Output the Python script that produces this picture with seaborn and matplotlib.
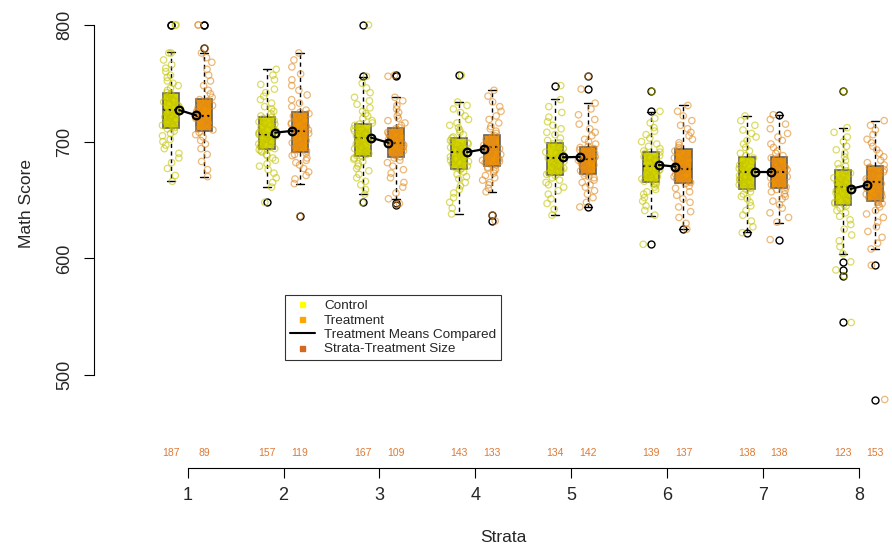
import numpy as np
import pandas as pd
import matplotlib
matplotlib.use("Agg")
import matplotlib.pyplot as plt
import matplotlib.transforms as mtransforms
from matplotlib.lines import Line2D
import seaborn as sns

# --- data ---
strata = [1, 2, 3, 4, 5, 6, 7, 8]

# lower whisker, Q1, median, Q3, upper whisker
ctrl_box = [
    [666, 711.5, 727, 741.5, 776.6],
    [661, 693.5, 706, 721.4, 762],
    [655, 688, 703.4, 715.2, 755.7],
    [638, 676.3, 691, 703.4, 734.3],
    [637, 671.5, 685.8, 698.6, 736.6],
    [636.6, 665.7, 679.2, 691.4, 725.7],
    [622.3, 659.5, 673.8, 686.6, 722.3],
    [603.8, 645.5, 661.2, 675.5, 712],
]
trt_box = [
    [670, 709.4, 722, 736.6, 776],
    [664, 690.9, 708.9, 725.7, 776.3],
    [651, 686.6, 699, 711.5, 738],
    [657, 679.2, 695.2, 705.7, 744.3],
    [644.3, 672.3, 685.2, 695.2, 733],
    [625.2, 664.3, 676.6, 693.7, 731.4],
    [630.6, 660, 674, 686.6, 722.9],
    [608, 649.4, 665.5, 679.2, 718],
]
ctrl_mean = [727, 707.7, 703.4, 691, 686.6, 680, 674, 659.5]
trt_mean = [722.6, 709.2, 699.2, 693.5, 686.9, 678.6, 674, 662.9]
ctrl_n = [187, 157, 167, 143, 134, 139, 138, 123]
trt_n = [89, 119, 109, 133, 142, 137, 138, 153]

# individual scores (a readable sample of the jittered points, outliers included)
ctrl_scores = [
    [666, 671, 677, 682, 686, 690, 694, 697, 700, 702, 705, 707, 709, 711,
     712, 713, 714, 715, 716, 717, 718, 719, 720, 721, 722, 723, 724, 725, 726, 727,
     728, 729, 730, 731, 733, 734, 735, 736, 737, 738, 740, 741,
     742, 744, 746, 748, 750, 752, 755, 757, 760, 763, 766, 770, 776, 776, 800, 800],
    [661, 665, 669, 673, 676, 679, 681, 684, 686, 688, 689, 691, 692, 693,
     694, 695, 696, 697, 698, 699, 700, 701, 702, 703, 704, 705, 706, 706, 707, 708,
     709, 710, 711, 712, 713, 714, 715, 716, 717, 718, 720, 721,
     722, 724, 726, 728, 730, 733, 736, 739, 742, 745, 749, 753, 757, 762, 648],
    [655, 659, 663, 666, 669, 672, 675, 677, 679, 681, 683, 685, 686, 687,
     688, 689, 690, 691, 692, 693, 694, 695, 696, 697, 698, 699, 700, 701, 702, 703,
     704, 705, 706, 707, 708, 709, 710, 711, 712, 713, 714, 715,
     716, 718, 720, 722, 724, 726, 729, 732, 735, 738, 742, 746, 750, 756, 648, 800],
    [638, 643, 648, 652, 656, 659, 662, 665, 668, 670, 672, 674, 676,
     677, 678, 679, 680, 681, 682, 683, 684, 685, 686, 687, 688, 689, 690, 691, 692,
     693, 694, 695, 696, 697, 698, 699, 700, 701, 703,
     704, 706, 708, 710, 712, 714, 716, 719, 722, 725, 728, 731, 734, 757],
    [637, 642, 647, 651, 655, 658, 661, 663, 665, 667, 669, 671,
     672, 673, 674, 675, 676, 677, 678, 679, 680, 681, 682, 683, 685, 686, 687, 688,
     689, 690, 691, 692, 694, 695, 696, 698,
     699, 701, 703, 706, 708, 711, 714, 717, 721, 725, 730, 736, 748],
    [637, 641, 645, 649, 652, 655, 657, 659, 661, 663, 664, 665,
     666, 667, 668, 669, 670, 671, 672, 673, 674, 675, 676, 677, 679, 680, 681, 682,
     683, 684, 685, 686, 687, 688, 690, 691,
     692, 694, 696, 698, 700, 703, 706, 709, 712, 716, 720, 726, 612, 743],
    [622, 627, 632, 637, 641, 645, 648, 651, 653, 655, 657, 659,
     660, 661, 662, 663, 664, 665, 666, 667, 668, 669, 670, 671, 672, 673, 674, 675,
     676, 677, 679, 680, 681, 683, 684, 686,
     688, 690, 692, 695, 698, 701, 704, 707, 710, 714, 718, 722],
    [604, 610, 615, 620, 625, 629, 633, 636, 639, 641, 643, 645,
     646, 647, 648, 649, 650, 652, 653, 654, 655, 656, 658, 659, 660, 661, 663, 664,
     665, 666, 668, 669, 670, 672, 673, 675,
     677, 679, 681, 684, 687, 690, 693, 696, 700, 704, 708, 712,
     545, 585, 590, 597, 743],
]
trt_scores = [
    [670, 676, 683, 689, 694, 698, 701, 704, 706, 708,
     710, 711, 713, 714, 716, 717, 719, 720, 721, 722, 723, 725, 726, 728, 729, 731,
     732, 734, 735, 736,
     738, 741, 744, 748, 752, 757, 762, 768, 772, 776, 780, 800, 800],
    [664, 668, 671, 674, 677, 680, 682, 684, 686, 688, 689, 690,
     692, 693, 695, 696, 698, 699, 701, 702, 704, 705, 707, 708, 709, 710, 712, 713,
     715, 716, 718, 719, 721, 722, 724, 725,
     727, 730, 733, 736, 740, 744, 748, 753, 758, 764, 770, 776, 636],
    [651, 656, 661, 665, 669, 673, 676, 679, 682, 684, 686,
     687, 688, 689, 690, 691, 692, 693, 694, 695, 696, 697, 698, 700, 701, 702, 704,
     705, 706, 707, 708, 710, 711,
     712, 714, 716, 718, 720, 722, 725, 728, 731, 735, 738, 646, 647, 756, 757],
    [657, 660, 663, 665, 667, 669, 671, 673, 675, 676, 677, 678,
     680, 681, 682, 683, 684, 685, 687, 688, 689, 690, 691, 692, 694, 695, 696, 697,
     698, 699, 700, 701, 702, 703, 704, 705,
     707, 709, 711, 713, 716, 719, 722, 726, 730, 734, 739, 744, 632, 637],
    [644, 648, 652, 655, 658, 661, 663, 665, 667, 669, 670, 671,
     673, 674, 675, 676, 677, 678, 679, 680, 681, 682, 683, 684, 685, 686, 687, 688,
     689, 690, 691, 692, 693, 693, 694, 695,
     696, 698, 700, 702, 705, 708, 711, 715, 719, 723, 728, 733, 745, 756],
    [625, 630, 635, 640, 644, 648, 651, 654, 657, 660, 662, 664,
     665, 666, 667, 668, 669, 670, 671, 672, 673, 674, 675, 676, 677, 678, 680, 681,
     683, 684, 686, 687, 689, 690, 692, 693,
     695, 697, 699, 702, 705, 708, 711, 714, 718, 722, 726, 731],
    [631, 635, 639, 643, 646, 649, 651, 653, 655, 657, 658, 659,
     661, 662, 663, 664, 665, 666, 667, 668, 669, 670, 671, 672, 674, 675, 676, 677,
     678, 679, 680, 681, 682, 683, 685, 686,
     688, 690, 692, 695, 698, 701, 704, 707, 711, 715, 719, 723, 616],
    [608, 613, 618, 623, 627, 631, 635, 638, 641, 644, 646, 647, 648,
     650, 651, 652, 653, 654, 655, 656, 657, 659, 660, 661, 662, 664, 665, 666, 667,
     668, 670, 671, 672, 673, 674, 675, 676, 677, 678,
     680, 682, 684, 687, 690, 693, 696, 699, 702, 706, 710, 714, 718, 479, 594],
]

ctrl_col = "#D6D600"
trt_col = "#EE9400"
ctrl_pt = "#C4C400"
trt_pt = "#E08A20"
size_col = "#D2691E"
count_col = "#DC7A36"

off = 0.17      # arm offset from the stratum tick
bw = 0.167      # box width

# --- figure ---
sns.set_style("white")
plt.rcParams["font.family"] = ["Liberation Sans", "DejaVu Sans"]

W, H = 892, 552
fig = plt.figure(figsize=(W / 100, H / 100), dpi=100)
ax = fig.add_axes([94 / W, 1 - 468 / H, 798 / W, 463 / H])

# long table for the points
rows = []
for i, s in enumerate(strata):
    for arm, sc, d in (("Control", ctrl_scores[i], -off), ("Treatment", trt_scores[i], off)):
        for v in sc:
            rows.append({"Strata": s, "arm": arm, "pos": s + d, "score": v})
df = pd.DataFrame(rows)

# boxes
stats, positions, faces = [], [], []
for i, s in enumerate(strata):
    for box, sc, d, fc in ((ctrl_box[i], ctrl_scores[i], -off, ctrl_col),
                           (trt_box[i], trt_scores[i], off, trt_col)):
        lo, q1, med, q3, hi = box
        stats.append(dict(whislo=lo, q1=q1, med=med, q3=q3, whishi=hi,
                          fliers=[v for v in sc if v < lo or v > hi]))
        positions.append(s + d)
        faces.append(fc)

bp = ax.bxp(stats, positions=positions, widths=bw, patch_artist=True, manage_ticks=False,
            boxprops=dict(edgecolor="#606060", linewidth=1.2),
            medianprops=dict(color="black", linewidth=1.6, linestyle=(0, (1, 1.5))),
            whiskerprops=dict(color="black", linewidth=1, linestyle=(0, (3, 2.5))),
            capprops=dict(color="black", linewidth=1),
            flierprops=dict(marker="o", markerfacecolor="none", markeredgecolor="black",
                            markersize=5, markeredgewidth=1))
for patch, fc in zip(bp["boxes"], faces):
    patch.set_facecolor(fc)

# jittered points
np.random.seed(3)
sns.stripplot(data=df, x="pos", y="score", hue="arm", native_scale=True,
              palette={"Control": ctrl_pt, "Treatment": trt_pt}, jitter=0.29,
              size=4.6, alpha=0.6, legend=False, ax=ax, zorder=3)
for coll in ax.collections:
    fc = coll.get_facecolors()
    coll.set_edgecolors(fc)
    coll.set_facecolors("none")
    coll.set_linewidth(0.9)

# means compared within each stratum
mo = off - bw / 2
for i, s in enumerate(strata):
    ax.plot([s - mo, s + mo], [ctrl_mean[i], trt_mean[i]], color="black", lw=1.6,
            marker="o", mfc="none", mec="black", ms=5.5, mew=1.6, zorder=5)

# group sizes
trans = mtransforms.blended_transform_factory(ax.transData, ax.transAxes)
for i, s in enumerate(strata):
    ax.text(s - off, 0.033, str(ctrl_n[i]), transform=trans, ha="center", va="center",
            fontsize=7.5, color=count_col)
    ax.text(s + off, 0.033, str(trt_n[i]), transform=trans, ha="center", va="center",
            fontsize=7.5, color=count_col)

# axes in base-R style
ax.set_xlim(0.023, 0.023 + 798 / 95.9)
ax.set_ylim(420.3, 817.1)
for sp in ("top", "right"):
    ax.spines[sp].set_visible(False)
ax.spines["left"].set_bounds(500, 800)
ax.spines["bottom"].set_bounds(1, 8)
for sp in ("left", "bottom"):
    ax.spines[sp].set_color("black")
    ax.spines[sp].set_linewidth(0.8)
ax.set_xticks(strata)
ax.set_xticklabels([str(s) for s in strata])
ax.set_yticks([500, 600, 700, 800])
ax.set_yticklabels(["500", "600", "700", "800"], rotation=90, va="center")
ax.tick_params(axis="both", direction="out", length=7.5, width=0.8, color="black",
               labelsize=13, bottom=True, left=True)
ax.tick_params(axis="y", pad=7.5)
ax.tick_params(axis="x", pad=6.5)
ax.set_xlabel("")
ax.set_ylabel("")
fig.text(503 / W, 1 - 537 / H, "Strata", ha="center", va="center", fontsize=12.5)
fig.text(27 / W, 1 - 203 / H, "Math Score", ha="center", va="center", rotation=90,
         fontsize=12.5)

handles = [
    Line2D([], [], ls="none", marker="s", ms=3.6, mfc="#FFFF00", mec="#FFFF00"),
    Line2D([], [], ls="none", marker="s", ms=3.6, mfc="#FFA500", mec="#FFA500"),
    Line2D([], [], color="black", lw=1.5),
    Line2D([], [], ls="none", marker="s", ms=3.6, mfc=size_col, mec=size_col),
]
labels = ["Control", "Treatment", "Treatment Means Compared", "Strata-Treatment Size"]
leg = fig.legend(handles, labels, loc="upper left", bbox_to_anchor=(285 / W, 1 - 295 / H),
                 bbox_transform=fig.transFigure, frameon=True, fancybox=False,
                 edgecolor="black", fontsize=9.7, handlelength=1.85, handletextpad=0.7,
                 borderpad=0.35, labelspacing=0.15, borderaxespad=0)
leg.get_frame().set_linewidth(0.8)

fig.savefig("out.png", dpi=100)
